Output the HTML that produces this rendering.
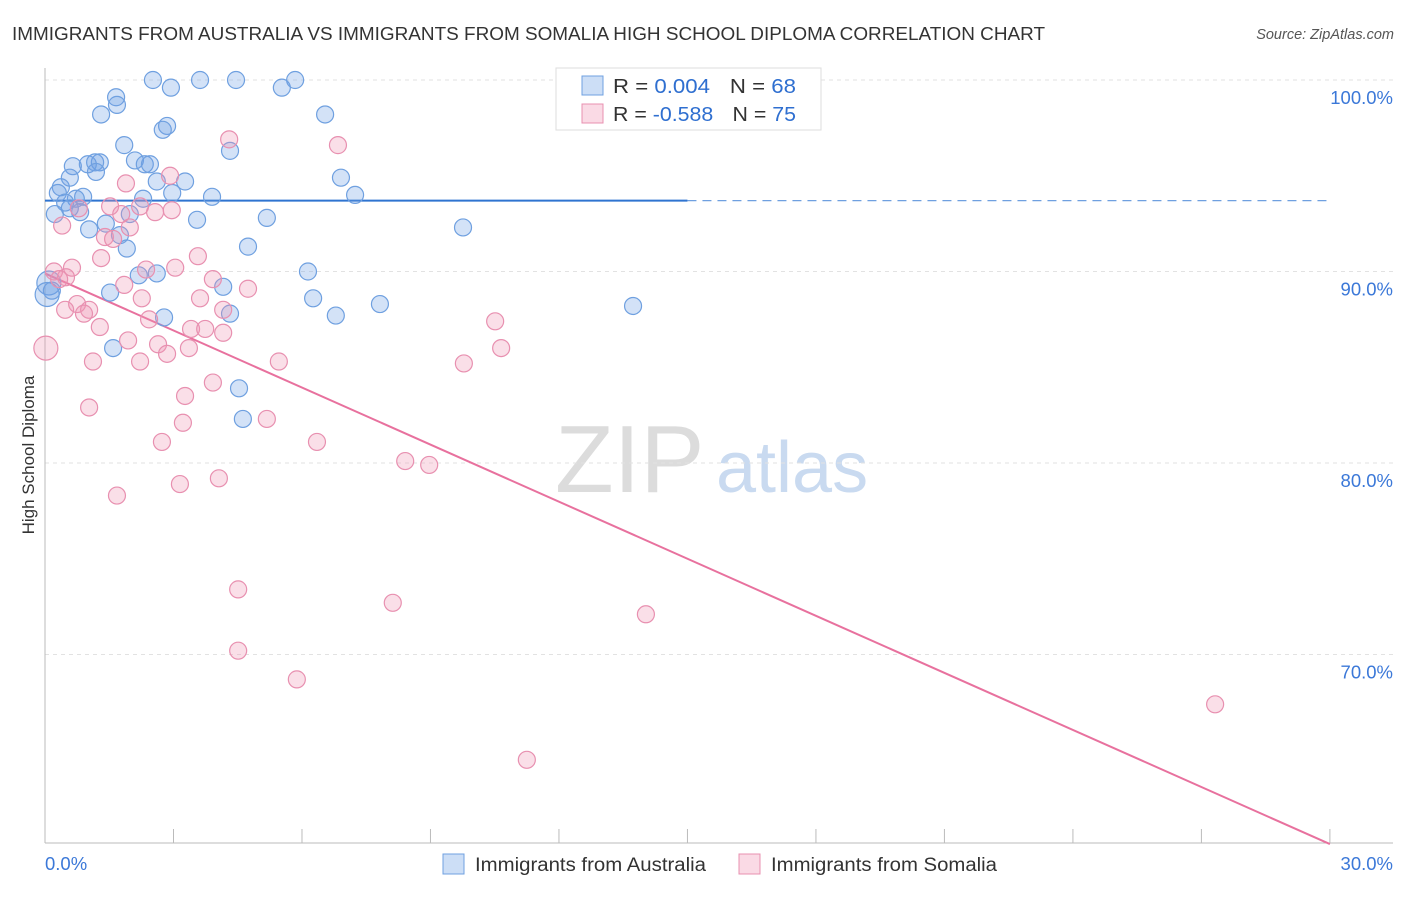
<!DOCTYPE html>
<html><head><meta charset="utf-8"><style>
body{margin:0;background:#fff;font-family:"Liberation Sans",sans-serif}
svg text{font-family:"Liberation Sans",sans-serif}
</style></head><body>
<svg width="1406" height="892" viewBox="0 0 1406 892" xmlns="http://www.w3.org/2000/svg">
<text x="12" y="40" font-size="18" fill="#333" textLength="1033" lengthAdjust="spacingAndGlyphs">IMMIGRANTS FROM AUSTRALIA VS IMMIGRANTS FROM SOMALIA HIGH SCHOOL DIPLOMA CORRELATION CHART</text>
<text x="1394" y="39" font-size="14.5" fill="#555" font-style="italic" text-anchor="end">Source: ZipAtlas.com</text>
<g>
<text x="555" y="492" font-size="96" fill="#dcdcdc" font-family="Liberation Serif">ZIP</text>
<text x="716" y="492" font-size="72" fill="#c9daf0">atlas</text>
</g>
<g id="grid"></g>
<g id="axes"></g>
<g id="lines"></g>
<g id="pts"></g>
<text transform="translate(34,455) rotate(-90)" font-size="17" fill="#333" text-anchor="middle">High School Diploma</text>
<g>
<rect x="556" y="68" width="265" height="62" fill="#fff" stroke="#ddd"/>
<rect x="582" y="76" width="21" height="19" fill="rgba(110,160,230,0.35)" stroke="#6fa0e0"/>
<rect x="582" y="104" width="21" height="19" fill="rgba(240,150,180,0.35)" stroke="#e890b0"/>
<text x="613" y="93" font-size="20" fill="#333" textLength="183" lengthAdjust="spacingAndGlyphs">R = <tspan fill="#2f6fd0"> 0.004</tspan><tspan dx="18">N = </tspan><tspan fill="#2f6fd0">68</tspan></text>
<text x="613" y="121" font-size="20" fill="#333" textLength="183" lengthAdjust="spacingAndGlyphs">R = <tspan fill="#2f6fd0">-0.588</tspan><tspan dx="18">N = </tspan><tspan fill="#2f6fd0">75</tspan></text>
</g>
<g>
<rect x="443" y="854" width="21" height="20" fill="rgba(110,160,230,0.35)" stroke="#6fa0e0"/>
<text x="475" y="871" font-size="19" fill="#333" textLength="231" lengthAdjust="spacingAndGlyphs">Immigrants from Australia</text>
<rect x="739" y="854" width="21" height="20" fill="rgba(240,150,180,0.35)" stroke="#e890b0"/>
<text x="771" y="871" font-size="19" fill="#333" textLength="226" lengthAdjust="spacingAndGlyphs">Immigrants from Somalia</text>
</g>
</svg>
<script>
const blueX=[2.52,3.62,4.46,5.84,2.94,5.53,1.66,1.68,1.31,6.54,2.85,2.75,1.85,4.32,2.10,1.28,2.33,2.45,0.65,1.00,1.17,1.19,0.58,6.91,3.27,2.61,0.37,0.30,2.97,7.24,3.90,0.89,2.29,0.72,0.47,0.58,0.82,0.23,1.98,3.55,5.18,1.42,1.03,9.76,1.75,1.91,4.74,6.14,2.19,2.61,0.09,0.16,4.16,1.52,6.26,7.82,13.73,6.79,4.32,2.78,1.59,4.53,4.62,12.26,0.05];
const blueY=[100.0,100.0,100.0,100.0,99.6,99.6,99.1,98.7,98.2,98.2,97.6,97.4,96.6,96.3,95.8,95.7,95.6,95.6,95.5,95.6,95.7,95.2,94.9,94.9,94.7,94.7,94.4,94.1,94.1,94.0,93.9,93.9,93.8,93.8,93.6,93.3,93.1,93.0,93.0,92.7,92.8,92.5,92.2,92.3,91.9,91.2,91.3,90.0,89.8,89.9,89.4,89.0,89.2,88.9,88.6,88.3,88.2,87.7,87.8,87.6,86.0,83.9,82.3,100.0,88.8];
const pinkX=[4.30,6.84,2.92,1.89,0.79,1.52,2.22,2.57,2.96,1.78,0.40,1.98,1.40,1.59,1.31,3.57,0.63,2.36,3.04,0.21,0.49,0.33,3.92,1.85,4.74,2.26,3.62,0.75,1.03,0.47,0.91,4.16,2.43,10.51,1.28,3.41,3.74,4.16,1.94,2.64,3.36,10.65,2.85,1.12,2.22,5.46,9.78,0.02,3.92,3.27,1.03,3.22,5.18,2.73,6.35,8.41,8.97,4.06,3.15,1.68,4.51,8.12,14.03,4.51,5.88,27.32,11.25];
const pinkY=[96.9,96.6,95.0,94.6,93.3,93.4,93.4,93.1,93.2,93.0,92.4,92.3,91.8,91.7,90.7,90.8,90.2,90.1,90.2,90.0,89.7,89.6,89.6,89.3,89.1,88.6,88.6,88.3,88.0,88.0,87.8,88.0,87.5,87.4,87.1,87.0,87.0,86.8,86.4,86.2,86.0,86.0,85.7,85.3,85.3,85.3,85.2,86.0,84.2,83.5,82.9,82.1,82.3,81.1,81.1,80.1,79.9,79.2,78.9,78.3,73.4,72.7,72.1,70.2,68.7,67.4,64.5];
const blueTrend=[93.7,93.7];
const pinkTrend=[89.9,60.1];
const yTicks=[100,90,80,70];
const yTickLabels=["100.0%","90.0%","80.0%","70.0%"];
const xTicks=[0,3,6,9,12,15,18,21,24,27,30];
const NS="http://www.w3.org/2000/svg";
const X=v=>45+v*42.83, Y=v=>80+(100-v)*19.15;
function mk(p,t,a){const e=document.createElementNS(NS,t);for(const k in a)e.setAttribute(k,a[k]);document.getElementById(p).appendChild(e);return e;}
yTicks.forEach((t,i)=>{
 const g=mk('grid','line',{x1:45,x2:1393,y1:Y(t),y2:Y(t),stroke:'#e2e2e2','stroke-dasharray':'4,4'});
 
 
 const l=mk('axes','text',{x:1393,y:Y(t)+24,'font-size':18.5,fill:'#3b78d8','text-anchor':'end'});
 l.textContent=yTickLabels[i];
 
 
});
const ax=mk('axes','line',{x1:45,x2:45,y1:68,y2:843,stroke:'#bbb'});


const bx=mk('axes','line',{x1:45,x2:1393,y1:843,y2:843,stroke:'#bbb'});


xTicks.forEach(t=>{
 const tk=mk('axes','line',{x1:X(t),x2:X(t),y1:829,y2:843,stroke:'#bbb'});
 
 
});
const xl0=mk('axes','text',{x:45,y:870,'font-size':18.5,fill:'#3b78d8'});xl0.textContent=xTicks[0].toFixed(1)+'%';


const xl1=mk('axes','text',{x:1393,y:870,'font-size':18.5,fill:'#3b78d8','text-anchor':'end'});xl1.textContent=xTicks[xTicks.length-1].toFixed(1)+'%';


function pts(xs,ys,fill,stroke,name){
 xs.forEach((x,i)=>{
  const big=(x<0.1);
  const c=mk('pts','circle',{cx:X(x),cy:Y(ys[i]),r:big?12:8.5,fill:fill,stroke:stroke,'stroke-width':1.2});
  
  
 });
}
pts(blueX,blueY,'rgba(110,160,230,0.3)','#6fa0e0','point-australia');
pts(pinkX,pinkY,'rgba(240,150,180,0.3)','#e890b0','point-somalia');
const b1=mk('lines','line',{x1:X(0),x2:X(15),y1:Y(blueTrend[0]),y2:Y(blueTrend[0]+(blueTrend[1]-blueTrend[0])/2),stroke:'#2f74d0','stroke-width':2});


const b2=mk('lines','line',{x1:X(15),x2:X(30),y1:Y(blueTrend[0]+(blueTrend[1]-blueTrend[0])/2),y2:Y(blueTrend[1]),stroke:'#6fa0e0','stroke-width':1.3,'stroke-dasharray':'9,6'});


const p1=mk('lines','line',{x1:X(0),x2:X(30),y1:Y(pinkTrend[0]),y2:Y(pinkTrend[1]),stroke:'#e8719e','stroke-width':2});


</script>
</body></html>
